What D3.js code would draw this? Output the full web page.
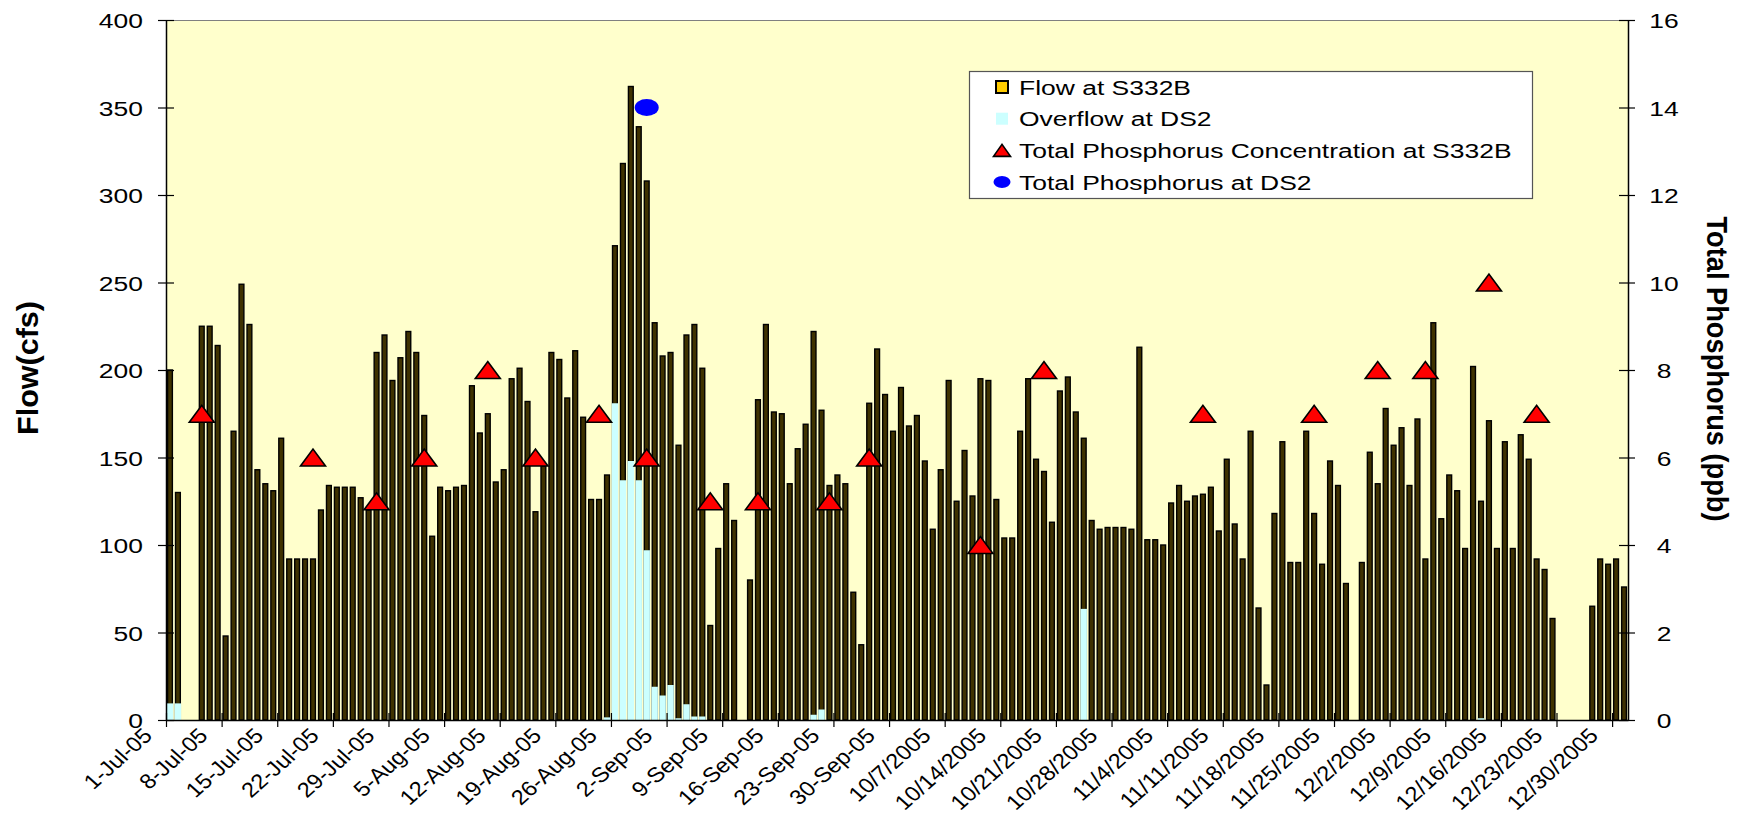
<!DOCTYPE html>
<html><head><meta charset="utf-8">
<script src="https://cdn.jsdelivr.net/npm/d3@7"></script>
<style>
body{margin:0;background:#fff}
text{font-family:"Liberation Sans",Arial,Helvetica,sans-serif}
</style>
</head><body>
<svg id="chart" width="1748" height="837"></svg>
<script>
// ---------- DATA ----------
const startDate = new Date(2005, 6, 1);
const endDate = new Date(2006, 0, 1);
const categories = d3.timeDay.range(startDate, endDate); // 1-Jul-05 .. 31-Dec-05

// Flow at S332B (cfs), one value per day
const flowS332B = [
 200,130,0,0,225,225,214,48,165,249,226,143,135,131,161,92,92,92,92,120,
 134,133,133,133,127,120,210,220,194,207,222,210,174,105,133,131,133,134,191,164,
 175,136,143,195,201,182,119,145,210,206,184,211,173,126,126,140,271,318,362,339,
 308,227,208,210,157,220,226,201,54,98,135,114,0,80,183,226,176,175,135,155,
 169,222,177,134,140,135,73,43,181,212,186,165,190,168,174,148,109,143,194,125,
 154,128,195,194,126,104,104,165,195,149,142,113,188,196,176,161,114,109,110,110,
 110,109,213,103,103,100,124,134,125,128,129,133,108,149,112,92,165,64,20,118,
 159,90,90,165,118,89,148,134,78,0,90,153,135,178,157,167,134,172,92,227,
 115,140,131,98,202,125,171,98,159,98,163,149,92,86,58,0,0,0,0,65,
 92,89,92,76
];

// Overflow at DS2 (cfs), one value per day
const overflowDS2 = [
 9.5,9.5,0,0,0,0,0,0,0,0,0,0,0,0,0,0,0,0,0,0,
 0,0,0,0,0,0,0,0,0,0,0,0,0,0,0,0,0,0,0,0,
 0,0,0,0,0,0,0,0,0,0,0,0,0,0,0,1.5,181,137,148,137,
 97,19,14,20,1,9,2,2,0,0,0,0,0,0,0,0,0,0,0,0,
 0,3,6,0,0,0,0,0,0,0,0,0,0,0,0,0,0,0,0,0,
 0,0,0,0,0,0,0,0,0,0,0,0,0,0,0,63.5,0,0,0,0,
 0,0,0,0,0,0,0,0,0,0,0,0,0,0,0,0,0,0,0,0,
 0,0,0,0,0,0,0,0,0,0,0,0,0,0,0,0,0,0,0,0,
 0,0,0,0,0,1,0,0,0,0,0,0,0,0,0,0,0,0,0,0,
 0,0,0,0
];

// Total Phosphorus Concentration at S332B (ppb)
const tpS332BDates = ["2005-07-05","2005-07-19","2005-07-27","2005-08-02","2005-08-10","2005-08-16",
 "2005-08-24","2005-08-30","2005-09-07","2005-09-13","2005-09-22","2005-09-27","2005-10-11",
 "2005-10-19","2005-11-08","2005-11-22","2005-11-30","2005-12-06","2005-12-14","2005-12-20"];
const tpS332BValues = [7,6,5,6,8,6,7,6,5,5,5,6,4,8,7,7,8,8,10,7];

// Total Phosphorus at DS2 (ppb)
const tpDS2Dates = ["2005-08-30"];
const tpDS2Values = [14];

// Axis tick labels
const xTickLabels = ["1-Jul-05","8-Jul-05","15-Jul-05","22-Jul-05","29-Jul-05","5-Aug-05","12-Aug-05",
 "19-Aug-05","26-Aug-05","2-Sep-05","9-Sep-05","16-Sep-05","23-Sep-05","30-Sep-05","10/7/2005",
 "10/14/2005","10/21/2005","10/28/2005","11/4/2005","11/11/2005","11/18/2005","11/25/2005",
 "12/2/2005","12/9/2005","12/16/2005","12/23/2005","12/30/2005"];
const yLeftTicks = [0,50,100,150,200,250,300,350,400];
const yRightTicks = [0,2,4,6,8,10,12,14,16];

const legendItems = ["Flow at S332B","Overflow at DS2","Total Phosphorus Concentration at S332B","Total Phosphorus at DS2"];

// ---------- LAYOUT ----------
const L = 166, R = 1628, T = 20, B = 720;
const SX = 1.26; // horizontal stretch of text
const svg = d3.select("#chart");
const parse = d3.timeParse("%Y-%m-%d");
const idx = s => d3.timeDay.count(startDate, parse(s));

const x = d3.scaleBand().domain(d3.range(categories.length)).range([L, R]).padding(0);
const xt = d3.scaleLinear().domain([0, categories.length]).range([L, R]);
const y = d3.scaleLinear().domain([0, 400]).range([B, T]);
const y2 = d3.scaleLinear().domain([0, 16]).range([B, T]);
const bw = x.bandwidth();

// plot background
svg.append("rect").attr("x", L).attr("y", T).attr("width", R - L).attr("height", B - T)
  .attr("fill", "#FFFFCC");
svg.append("line").attr("x1", L).attr("x2", R).attr("y1", T + 0.5).attr("y2", T + 0.5)
  .attr("stroke", "#808080").attr("stroke-width", 1.2);

// flow bars
const fbw = 4.8;
svg.append("g").selectAll("rect").data(flowS332B.map((v, i) => ({v, i})).filter(d => d.v > 0))
  .join("rect")
  .attr("x", d => x(d.i) + (bw - fbw) / 2)
  .attr("y", d => y(d.v))
  .attr("width", fbw)
  .attr("height", d => y(0) - y(d.v))
  .attr("fill", "#3f3200")
  .attr("stroke", "#000").attr("stroke-width", 1.4);

// overflow bars (in front)
const obw = 6.4;
svg.append("g").selectAll("rect").data(overflowDS2.map((v, i) => ({v, i})).filter(d => d.v > 0))
  .join("rect")
  .attr("x", d => x(d.i) + (bw - obw) / 2)
  .attr("y", d => y(d.v))
  .attr("width", obw)
  .attr("height", d => y(0) - y(d.v))
  .attr("fill", "#CCFFFF");

// axes
function styleAxis(g) {
  g.selectAll("path.domain").attr("stroke", "#000").attr("stroke-width", 1.5);
  g.selectAll(".tick line").attr("stroke", "#000").attr("stroke-width", 1.2);
}
const fs = 21;
// left
const gl = svg.append("g").attr("transform", `translate(${L},0)`)
  .call(d3.axisLeft(y).tickValues(yLeftTicks).tickSize(8).tickSizeOuter(0));
gl.append("g").call(d3.axisRight(y).tickValues(yLeftTicks).tickSize(8).tickFormat(""))
  .select("path.domain").remove();
styleAxis(gl);
gl.selectAll(".tick text").attr("x", 0).attr("dy", "0.36em").attr("fill", "#000")
  .attr("font-size", fs).attr("text-anchor", "end")
  .attr("transform", `translate(-23,0) scale(${SX},1)`);

// right
const gr = svg.append("g").attr("transform", `translate(${R},0)`)
  .call(d3.axisRight(y2).tickValues(yRightTicks).tickSize(7).tickSizeOuter(0));
gr.append("g").call(d3.axisLeft(y2).tickValues(yRightTicks).tickSize(9).tickFormat(""))
  .select("path.domain").remove();
styleAxis(gr);
gr.selectAll(".tick text").attr("x", 0).attr("dy", "0.36em").attr("fill", "#000")
  .attr("font-size", fs).attr("text-anchor", "middle")
  .attr("transform", `translate(36,0) scale(${SX},1)`);

// bottom
const xTickVals = d3.range(0, categories.length, 7);
const gb = svg.append("g").attr("transform", `translate(0,${B})`)
  .call(d3.axisBottom(xt).tickValues(xTickVals).tickSize(7).tickSizeOuter(0)
    .tickFormat((d, i) => xTickLabels[i]));
gb.append("g").call(d3.axisTop(xt).tickValues(xTickVals).tickSize(7).tickFormat(""))
  .select("path.domain").remove();
styleAxis(gb);
gb.selectAll(".tick text").attr("x", 0).attr("y", 0).attr("dy", 0).attr("fill", "#000")
  .attr("font-size", fs).attr("text-anchor", "end")
  .attr("transform", `translate(-13,17) scale(1.12,1) rotate(-45)`);

// TP markers S332B (triangles)
const triW = 25, triH = 17;
svg.append("g").selectAll("path").data(tpS332BDates.map((d, k) => ({i: idx(d), v: tpS332BValues[k]})))
  .join("path")
  .attr("d", d => {
    const cx = x(d.i) + bw / 2, cy = y2(d.v);
    return `M${cx - triW / 2},${cy + triH / 2}L${cx},${cy - triH / 2}L${cx + triW / 2},${cy + triH / 2}Z`;
  })
  .attr("fill", "#FF0000").attr("stroke", "#000").attr("stroke-width", 1.6).attr("stroke-linejoin", "miter");

// TP DS2 markers (ellipse)
svg.append("g").selectAll("ellipse").data(tpDS2Dates.map((d, k) => ({i: idx(d), v: tpDS2Values[k]})))
  .join("ellipse")
  .attr("cx", d => x(d.i) + bw / 2).attr("cy", d => y2(d.v))
  .attr("rx", 12).attr("ry", 8.5).attr("fill", "#0000FF");

// axis titles
svg.append("text").attr("font-size", 26).attr("font-weight", "bold").attr("text-anchor", "middle")
  .attr("transform", `translate(28,368) scale(1.12,1) rotate(-90)`).attr("dy", "0.35em")
  .attr("textLength", 134).attr("lengthAdjust", "spacingAndGlyphs")
  .text("Flow(cfs)");
svg.append("text").attr("font-size", 26).attr("font-weight", "bold").attr("text-anchor", "middle")
  .attr("transform", `translate(1717,369) scale(1.12,1) rotate(90)`).attr("dy", "0.35em")
  .attr("textLength", 305).attr("lengthAdjust", "spacingAndGlyphs")
  .text("Total Phosphorus (ppb)");

// legend
const lg = svg.append("g");
lg.append("rect").attr("x", 969.5).attr("y", 71.5).attr("width", 563).attr("height", 127)
  .attr("fill", "#fff").attr("stroke", "#555").attr("stroke-width", 1.2);
const rowY = k => 87 + k * 31.7;
const sx0 = 1002;
lg.append("rect").attr("x", sx0 - 6).attr("y", rowY(0) - 6).attr("width", 12).attr("height", 12)
  .attr("fill", "#FFCC00").attr("stroke", "#000").attr("stroke-width", 2);
lg.append("rect").attr("x", sx0 - 6).attr("y", rowY(1) - 6).attr("width", 12).attr("height", 12)
  .attr("fill", "#CCFFFF");
lg.append("path").attr("d", `M${sx0 - 8.5},${rowY(2) + 6}L${sx0},${rowY(2) - 6}L${sx0 + 8.5},${rowY(2) + 6}Z`)
  .attr("fill", "#FF0000").attr("stroke", "#000").attr("stroke-width", 1.6);
lg.append("ellipse").attr("cx", sx0).attr("cy", rowY(3)).attr("rx", 8.5).attr("ry", 6).attr("fill", "#0000FF");
lg.selectAll("text.li").data(legendItems).join("text").attr("class", "li")
  .attr("font-size", fs).attr("dy", "0.36em")
  .attr("transform", (d, k) => `translate(1019,${rowY(k)}) scale(${SX},1)`)
  .text(d => d);
</script>
</body></html>
